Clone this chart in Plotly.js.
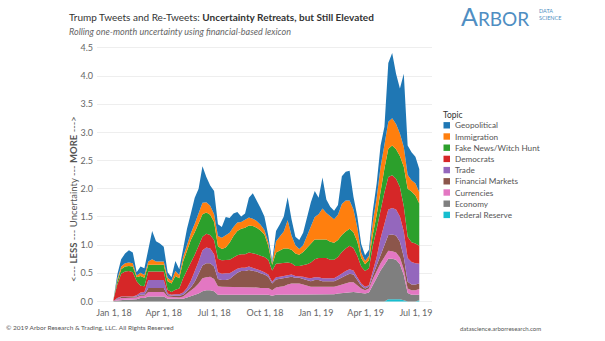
<!DOCTYPE html>
<html>
<head>
<meta charset="utf-8">
<script src="https://cdn.plot.ly/plotly-3.0.1.min.js"></script>
<style>
html,body{margin:0;padding:0;background:#fff;}
#chart{width:605px;height:341px;}
</style>
</head>
<body>
<div id="chart"></div>
<script>
// ---- Data (weekly samples, starting 2017-12-31) ----
const startDate = '2017-12-31';
const stepDays = 7;

const economy = [0.01,0.02,0.03,0.03,0.03,0.03,0.04,0.06,0.06,0.09, 0.09,0.09,0.09,0.09,0.05,0.05,0.05,0.05,0.05,0.07, 0.09,0.11,0.14,0.18,0.2,0.2,0.18,0.12,0.12,0.12, 0.12,0.12,0.12,0.12,0.12,0.12,0.12,0.12,0.12,0.12, 0.12,0.1,0.12,0.12,0.12,0.12,0.12,0.12,0.12,0.12, 0.12,0.12,0.12,0.12,0.12,0.12,0.12,0.13,0.14,0.15, 0.16,0.17,0.17,0.16,0.15,0.14,0.16,0.3,0.42,0.55, 0.65,0.72,0.72,0.7,0.62,0.45,0.15,0.12,0.12,0.1];
const currencies = [0,0.02,0.03,0.03,0.03,0.03,0.03,0.04,0.04,0.08, 0.08,0.08,0.08,0.08,0.04,0.03,0.03,0.02,0.04,0.07, 0.1,0.14,0.18,0.23,0.23,0.24,0.22,0.15,0.14,0.14, 0.14,0.14,0.14,0.14,0.14,0.14,0.13,0.13,0.12,0.12, 0.12,0.1,0.13,0.14,0.15,0.18,0.2,0.2,0.2,0.18, 0.16,0.14,0.14,0.14,0.14,0.14,0.13,0.13,0.14,0.15, 0.16,0.17,0.17,0.12,0.08,0.06,0.07,0.1,0.12,0.13, 0.14,0.14,0.13,0.13,0.12,0.1,0.08,0.08,0.08,0.1];
const financialMarkets = [0,0.01,0.02,0.02,0.02,0.02,0.02,0.02,0.02,0.07, 0.07,0.07,0.07,0.07,0.02,0.02,0.02,0.03,0.03,0.04, 0.06,0.1,0.17,0.23,0.25,0.24,0.22,0.13,0.12,0.12, 0.14,0.2,0.25,0.28,0.28,0.3,0.3,0.28,0.26,0.24, 0.2,0.12,0.14,0.14,0.14,0.13,0.12,0.1,0.1,0.1, 0.1,0.1,0.12,0.12,0.1,0.1,0.1,0.1,0.11,0.13, 0.14,0.15,0.14,0.1,0.05,0.03,0.03,0.06,0.1,0.16, 0.22,0.28,0.3,0.3,0.28,0.22,0.12,0.1,0.1,0.1];
const trade = [0,0.01,0.01,0.01,0.01,0.01,0.02,0.04,0.05,0.14, 0.14,0.14,0.14,0.14,0.03,0.02,0.03,0.03,0.04,0.06, 0.12,0.18,0.22,0.27,0.28,0.26,0.22,0.12,0.11,0.12, 0.1,0.08,0.07,0.06,0.06,0.06,0.05,0.05,0.05,0.04, 0.04,0.03,0.04,0.04,0.04,0.04,0.04,0.03,0.03,0.04, 0.04,0.05,0.05,0.05,0.05,0.05,0.05,0.05,0.06,0.07, 0.08,0.08,0.07,0.05,0.04,0.03,0.03,0.08,0.15,0.28, 0.38,0.45,0.47,0.46,0.45,0.45,0.42,0.4,0.38,0.35];
const democrats = [0.02,0.24,0.4,0.44,0.45,0.43,0.25,0.12,0.1,0.15, 0.15,0.15,0.15,0.15,0.07,0.05,0.08,0.1,0.25,0.3, 0.32,0.3,0.27,0.24,0.24,0.24,0.25,0.24,0.24,0.24, 0.24,0.24,0.24,0.24,0.24,0.25,0.26,0.26,0.26,0.27, 0.26,0.2,0.24,0.24,0.24,0.22,0.2,0.18,0.18,0.2, 0.24,0.28,0.32,0.34,0.36,0.36,0.34,0.33,0.34,0.38, 0.4,0.42,0.4,0.38,0.3,0.28,0.3,0.45,0.5,0.52, 0.55,0.58,0.58,0.55,0.52,0.45,0.38,0.35,0.35,0.32];
const fakeNews = [0,0.06,0.08,0.09,0.09,0.1,0.07,0.17,0.15,0.12, 0.12,0.12,0.12,0.12,0.15,0.15,0.24,0.18,0.3,0.38, 0.4,0.4,0.4,0.4,0.38,0.36,0.32,0.22,0.2,0.22, 0.3,0.38,0.43,0.45,0.47,0.48,0.48,0.47,0.45,0.4, 0.25,0.1,0.2,0.23,0.25,0.25,0.24,0.22,0.2,0.24, 0.3,0.35,0.35,0.33,0.33,0.33,0.32,0.3,0.3,0.3, 0.3,0.3,0.28,0.25,0.15,0.12,0.14,0.2,0.25,0.35, 0.42,0.5,0.53,0.52,0.55,0.7,0.85,0.9,0.85,0.75];
const immigration = [0,0.04,0.05,0.06,0.06,0.06,0.03,0.06,0.05,0.06, 0.1,0.06,0.06,0.06,0.06,0.05,0.09,0.06,0.08,0.1, 0.12,0.15,0.17,0.2,0.18,0.16,0.14,0.18,0.2,0.21, 0.18,0.16,0.15,0.12,0.14,0.14,0.13,0.12,0.1,0.08, 0.06,0.03,0.2,0.24,0.3,0.5,0.25,0.15,0.1,0.12, 0.2,0.3,0.4,0.45,0.55,0.47,0.45,0.42,0.45,0.55, 0.55,0.5,0.4,0.25,0.1,0.06,0.08,0.22,0.3,0.4, 0.42,0.48,0.48,0.45,0.4,0.35,0.25,0.2,0.22,0.2];
const geopolitical = [0,0.08,0.13,0.17,0.22,0.19,0.06,0.11,0.12,0.2, 0.5,0.36,0.32,0.26,0.1,0.06,0.18,0.1,0.16,0.27, 0.35,0.46,0.45,0.65,0.45,0.36,0.41,0.21,0.19,0.33, 0.26,0.24,0.19,0.1,0.11,0.35,0.45,0.37,0.3,0.24, 0.12,0.04,0.18,0.22,0.27,0.41,0.29,0.15,0.16,0.22, 0.35,0.42,0.46,0.29,0.55,0.24,0.17,0.15,0.17,0.49, 0.51,0.53,0.23,0.2,0.15,0.1,0.11,0.2,0.26,0.38, 0.32,1.04,1.16,0.89,0.8,1.3,0.52,0.5,0.47,0.41];
const federalReserve = [0,0,0,0,0,0,0,0,0,0, 0,0,0,0,0,0,0,0,0,0, 0,0,0,0,0,0,0,0,0,0, 0,0,0,0,0,0,0,0,0,0, 0,0,0,0,0,0,0,0,0,0, 0,0,0,0,0,0,0,0,0,0, 0,0,0,0,0,0,0,0,0,0, 0,0.04,0.04,0.04,0.04,0.02,0,0,0,0.02];

const topics = ['Geopolitical','Immigration','Fake News/Witch Hunt','Democrats','Trade','Financial Markets','Currencies','Economy','Federal Reserve'];
const seriesByTopic = [geopolitical, immigration, fakeNews, democrats, trade, financialMarkets, currencies, economy, federalReserve];

const xTickVals = ['2018-01-01','2018-04-01','2018-07-01','2018-10-01','2019-01-01','2019-04-01','2019-07-01'];
const xTickText = ['Jan 1, 18','Apr 1, 18','Jul 1, 18','Oct 1, 18','Jan 1, 19','Apr 1, 19','Jul 1, 19'];
const yTickVals = [0,0.5,1,1.5,2,2.5,3,3.5,4,4.5];
const yTickText = ['0.0','0.5','1.0','1.5','2.0','2.5','3.0','3.5','4.0','4.5'];

// ---- Style ----
const colors = ['#1f77b4','#ff7f0e','#2ca02c','#d62728','#9467bd','#8c564b','#e377c2','#7f7f7f','#17becf'];
const FONT = 'Lato, "Open Sans", sans-serif';

const n = economy.length;
const t0 = Date.parse(startDate + 'T00:00:00Z');
const dates = [];
for (let i = 0; i < n; i++) dates.push(new Date(t0 + i * stepDays * 864e5).toISOString().slice(0,10));

// traces stacked bottom-up (reverse of legend order)
const traces = [];
for (let k = topics.length - 1; k >= 0; k--) {
  traces.push({
    type: 'scatter', mode: 'lines', stackgroup: 'one',
    name: topics[k], x: dates, y: seriesByTopic[k],
    line: {width: 0, shape: 'linear'}, fillcolor: colors[k],
    hoverinfo: 'skip'
  });
}

// pixel helpers for paper coords
const L = 97, R = 432, T = 40, B = 303;
const px = v => (v - L) / (R - L);
const py = v => (B - v) / (B - T);

const annotations = [
  {text: 'Trump Tweets and Re-Tweets: <b>Uncertainty Retreats, but Still Elevated</b>', x: px(67), y: py(17),
   xanchor: 'left', yanchor: 'middle', font: {size: 10, color: '#333'}},
  {text: '<i>Rolling one-month uncertainty using financial-based lexicon</i>', x: px(67), y: py(31),
   xanchor: 'left', yanchor: 'middle', font: {size: 9, color: '#666'}},
  {text: '&lt;--- <b>LESS</b> --- Uncertainty --- <b>MORE</b> ---&gt;', x: px(73), y: py(199), textangle: -90,
   xanchor: 'center', yanchor: 'middle', font: {size: 9.5, color: '#555'}},
  {text: '<span style="font-size:25px">A</span>RBOR', x: px(459), y: py(16),
   xanchor: 'left', yanchor: 'middle', font: {size: 19, color: '#4f8ec2'}},
  {text: 'DATA<br>SCIENCE', x: px(537), y: py(14), align: 'left',
   xanchor: 'left', yanchor: 'middle', font: {size: 5.5, color: '#4f8ec2'}},
  {text: 'Topic', x: px(441), y: py(115), xanchor: 'left', yanchor: 'middle',
   font: {size: 8.5, color: '#333'}},
  {text: '\u00a9 2019 Arbor Research & Trading, LLC. All Rights Reserved', x: px(4), y: py(327),
   xanchor: 'left', yanchor: 'middle', font: {size: 6.5, color: '#555'}},
  {text: 'datascience.arborresearch.com', x: px(500), y: py(328),
   xanchor: 'center', yanchor: 'middle', font: {size: 6, color: '#555'}}
];
const shapes = [];
topics.forEach((tp, k) => {
  const cy = 125.3 + k * 11.2;
  shapes.push({type: 'rect', xref: 'paper', yref: 'paper', x0: px(443.5), x1: px(450), y0: py(cy + 3.2), y1: py(cy - 3.2),
    fillcolor: colors[k], line: {width: 0}});
  annotations.push({text: tp, x: px(452.5), y: py(cy), xanchor: 'left', yanchor: 'middle',
    font: {size: 8.2, color: '#555'}});
});
annotations.forEach(a => { a.xref = 'paper'; a.yref = 'paper'; a.showarrow = false; });

const layout = {
  width: 605, height: 341,
  margin: {l: L, r: 605 - R, t: T, b: 341 - B, pad: 0},
  paper_bgcolor: '#fff', plot_bgcolor: '#fff',
  font: {family: FONT, color: '#666'},
  showlegend: false,
  xaxis: {type: 'date', range: ['2017-12-01 07:00', '2019-07-30'], tickvals: xTickVals, ticktext: xTickText,
    showgrid: false, zeroline: false, showline: false, ticks: '', ticklabelstandoff: 3,
    tickfont: {size: 9, color: '#666'}, fixedrange: true},
  yaxis: {range: [-0.027, 4.64], tickvals: yTickVals, ticktext: yTickText, showgrid: true, gridcolor: '#eeeeee', gridwidth: 1,
    zeroline: false, showline: false, ticks: '', ticklabelstandoff: 3,
    tickfont: {size: 9, color: '#666'}, fixedrange: true},
  annotations: annotations,
  shapes: shapes
};

Plotly.newPlot('chart', traces, layout, {displayModeBar: false, staticPlot: true});
</script>
</body>
</html>
